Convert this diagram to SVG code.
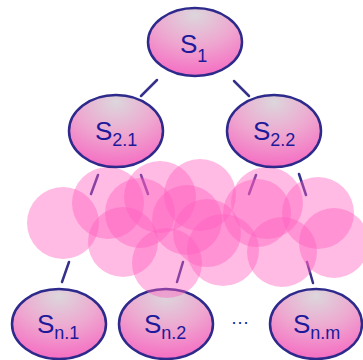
<svg xmlns="http://www.w3.org/2000/svg" width="363" height="360" viewBox="0 0 363 360">
<defs>
<radialGradient id="g" cx="0.5" cy="0.15" r="0.95" fx="0.5" fy="0.1">
<stop offset="0" stop-color="#dcd6dc"/>
<stop offset="0.45" stop-color="#eea8d0"/>
<stop offset="1" stop-color="#f760c0"/>
</radialGradient>
<style>
.n{fill:url(#g);stroke:#2d2a8c;stroke-width:2.5}
.t{font-family:"Liberation Sans",Arial,sans-serif;fill:#1c1a9a}
.s{font-size:26px}
.b{font-size:18px}
.c line{stroke:#35308c;stroke-width:2.5;stroke-linecap:round}
.cl circle{fill:#ff5cbf;fill-opacity:0.42}
</style>
</defs>
<g id="connectors" class="c">
<line x1="157" y1="80" x2="141" y2="96"/>
<line x1="234" y1="81" x2="249" y2="96"/>
<line x1="98" y1="175" x2="91" y2="194"/>
<line x1="141" y1="175" x2="148" y2="194"/>
<line x1="256" y1="175" x2="249" y2="194"/>
<line x1="299" y1="174" x2="306" y2="195"/>
<line x1="69" y1="262" x2="62" y2="282"/>
<line x1="183" y1="262" x2="177" y2="282"/>
<line x1="307" y1="262" x2="313" y2="283"/>
</g>
<g id="S1"><ellipse class="n" cx="195" cy="42" rx="47" ry="34"/><text class="t" x="180" y="53"><tspan class="s">S</tspan><tspan class="b" dy="9">1</tspan></text></g>
<g id="Sn1"><ellipse class="n" cx="59" cy="324" rx="47" ry="35"/><text class="t" x="37" y="333"><tspan class="s">S</tspan><tspan class="b" dy="6">n.1</tspan></text></g>
<g id="Sn2"><ellipse class="n" cx="166" cy="324" rx="47" ry="35"/><text class="t" x="144" y="333"><tspan class="s">S</tspan><tspan class="b" dy="6">n.2</tspan></text></g>
<g id="Snm"><ellipse class="n" cx="316" cy="324" rx="46" ry="35"/><text class="t" x="293" y="333"><tspan class="s">S</tspan><tspan class="b" dy="6">n.m</tspan></text></g>
<text class="t" x="240" y="328" font-size="18" text-anchor="middle" fill="#1c1a9a">···</text>
<g id="cloud" class="cl">
<circle cx="63" cy="223" r="36"/>
<circle cx="108" cy="203" r="36"/>
<circle cx="160" cy="197" r="36"/>
<circle cx="200" cy="195" r="36"/>
<circle cx="267" cy="203" r="36"/>
<circle cx="318" cy="213" r="36"/>
<circle cx="334" cy="243" r="35"/>
<circle cx="123" cy="242" r="35"/>
<circle cx="140" cy="213" r="35"/>
<circle cx="167" cy="263" r="35"/>
<circle cx="187" cy="220" r="35"/>
<circle cx="223" cy="250" r="36"/>
<circle cx="282" cy="252" r="35"/>
<circle cx="257" cy="213" r="34"/>
<circle cx="207" cy="233" r="34"/>
</g>
<g id="S21"><ellipse class="n" cx="116" cy="131" rx="47" ry="36"/><text class="t" x="95" y="140"><tspan class="s">S</tspan><tspan class="b" dy="6">2.1</tspan></text></g>
<g id="S22"><ellipse class="n" cx="274" cy="131" rx="47" ry="36"/><text class="t" x="253" y="140"><tspan class="s">S</tspan><tspan class="b" dy="6">2.2</tspan></text></g>
</svg>
